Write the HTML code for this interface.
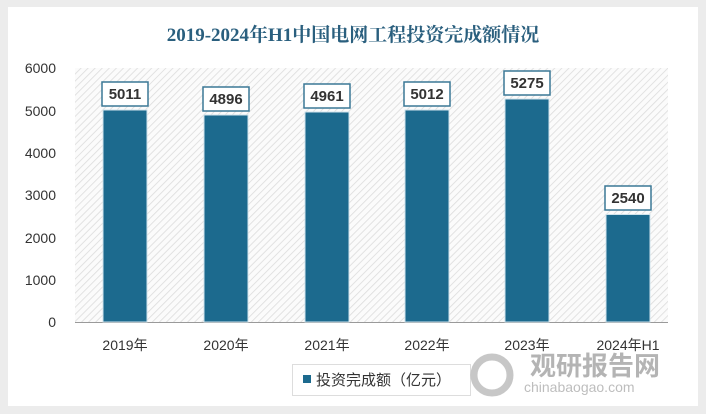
<!DOCTYPE html>
<html><head><meta charset="utf-8"><style>
body{margin:0;width:706px;height:414px;background:#ececec;overflow:hidden;font-family:"Liberation Sans","Noto Sans CJK SC",sans-serif}
</style></head><body>
<svg width="706" height="414" xmlns="http://www.w3.org/2000/svg" style="position:absolute;left:0;top:0">
<defs>
<pattern id="h" width="5" height="5" patternUnits="userSpaceOnUse" patternTransform="rotate(45)">
<rect width="5" height="5" fill="#fbfbfb"/><line x1="0" y1="0" x2="0" y2="5" stroke="#dcdcdc" stroke-width="1.6"/>
</pattern>
</defs>
<rect x="8" y="7" width="690" height="399" fill="#fff"/>
<text x="353" y="41" text-anchor="middle" font-family="'Liberation Serif','Noto Serif CJK SC',serif" font-weight="bold" font-size="19" fill="#2a5f7e">2019-2024年H1中国电网工程投资完成额情况</text>
<rect x="75" y="68" width="593" height="254" fill="url(#h)"/>
<line x1="75" y1="322.5" x2="668" y2="322.5" stroke="#9a9a9a" stroke-width="1"/>
<g font-size="14" fill="#333" text-anchor="end">
<text x="56" y="73">6000</text><text x="56" y="116">5000</text><text x="56" y="158">4000</text>
<text x="56" y="200">3000</text><text x="56" y="243">2000</text><text x="56" y="285">1000</text><text x="56" y="327">0</text>
</g>
<g fill="#1c6a8e" stroke="#cfe3ec" stroke-width="1">
<rect x="103" y="110" width="44" height="212"/>
<rect x="204" y="115" width="44" height="207"/>
<rect x="305" y="112" width="44" height="210"/>
<rect x="405" y="110" width="44" height="212"/>
<rect x="505" y="99" width="44" height="223"/>
<rect x="606" y="214.5" width="44" height="107.5"/>
</g>
<g fill="#fff" stroke="#3b7896" stroke-width="1.5">
<rect x="102" y="82" width="46" height="24"/>
<rect x="203" y="87" width="46" height="24"/>
<rect x="304" y="84" width="46" height="24"/>
<rect x="404" y="82" width="46" height="24"/>
<rect x="504" y="71" width="46" height="24"/>
<rect x="605" y="186" width="46" height="24"/>
</g>
<g font-size="15" font-weight="bold" fill="#333" text-anchor="middle">
<text x="125" y="99">5011</text><text x="226" y="104">4896</text><text x="327" y="101">4961</text>
<text x="427" y="99">5012</text><text x="527" y="88">5275</text><text x="628" y="203">2540</text>
</g>
<g font-size="14" fill="#333" text-anchor="middle">
<text x="125" y="350">2019年</text><text x="226" y="350">2020年</text><text x="327" y="350">2021年</text>
<text x="427" y="350">2022年</text><text x="527" y="350">2023年</text><text x="628" y="350">2024年H1</text>
</g>
<rect x="292.5" y="364.5" width="178" height="31" fill="#fff" stroke="#ddd"/>
<rect x="303" y="375" width="8" height="8" fill="#1c6a8e"/>
<text x="316" y="385" font-size="15" fill="#333">投资完成额（亿元）</text>
<g opacity="0.55">
<circle cx="492" cy="375" r="18" fill="none" stroke="#999" stroke-width="7"/>
<text x="530" y="375" font-size="26" font-weight="bold" fill="#777">观研报告网</text>
<text x="524" y="392" font-size="14" fill="#888">chinabaogao.com</text>
</g>
</svg>
</body></html>
